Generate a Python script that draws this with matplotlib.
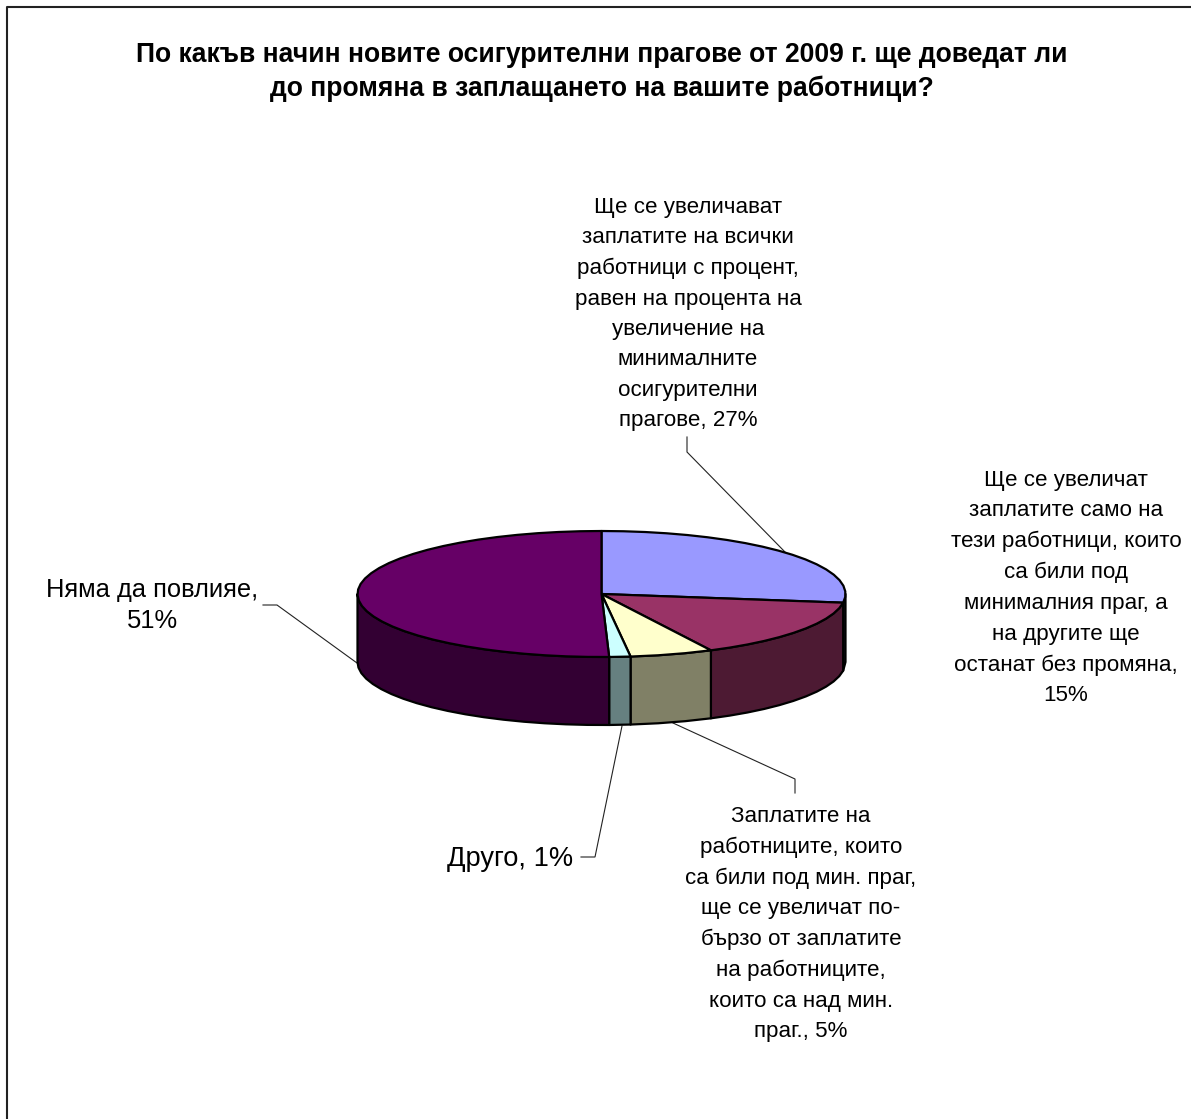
import numpy as np
import matplotlib
matplotlib.use("Agg")
import matplotlib.pyplot as plt
from matplotlib.patches import Polygon

plt.rcParams['font.family'] = ['Liberation Sans', 'DejaVu Sans']

title = "По какъв начин новите осигурителни прагове от 2009 г. ще доведат ли\nдо промяна в заплащането на вашите работници?"

shares = [27.2, 15.4, 5.5, 1.4, 50.5]
top_colors = ['#9999FF', '#993366', '#FFFFCC', '#CCFFFF', '#660066']
side_colors = ['#4D4D80', '#4D1A33', '#808066', '#668080', '#330033']

labels = [
    "Ще се увеличават\nзаплатите на всички\nработници с процент,\nравен на процента на\nувеличение на\nминималните\nосигурителни\nпрагове, 27%",
    "Ще се увеличат\nзаплатите само на\nтези работници, които\nса били под\nминималния праг, а\nна другите ще\nостанат без промяна,\n15%",
    "Заплатите на\nработниците, които\nса били под мин. праг,\nще се увеличат по-\nбързо от заплатите\nна работниците,\nкоито са над мин.\nпраг., 5%",
    "Друго, 1%",
    "Няма да повлияе,\n51%",
]
label_pos = [(688, 314), (1066, 588), (801, 924), (510, 859), (152, 605.5)]
label_size = [16.1, 16.1, 16.1, 19.6, 18.4]
label_spacing = [1.59, 1.6, 1.59, 1.2, 1.4]
leaders = [
    [(687, 437), (687, 452), (785, 552)],
    [],
    [(795, 793), (795, 779), (673, 723)],
    [(581, 857), (595, 857), (622, 726)],
    [(263, 605), (277, 605), (357, 663)],
]

W, H = 1191, 1119
CX, CY, RX, RY, DEPTH = 601.5, 594, 244, 63, 68
fig = plt.figure(figsize=(W / 100, H / 100), dpi=100, facecolor='white')
ax = fig.add_axes([0, 0, 1, 1])
ax.set_xlim(0, W)
ax.set_ylim(H, 0)
ax.axis('off')

# Frame: open towards the right and bottom image edges
ax.plot([6.8, 6.8, W], [H, 6.8, 6.8], color='#222222', lw=1.5, solid_capstyle='butt')

ax.text(601.5, 72, title, ha='center', va='center', fontsize=19.1,
        fontweight='bold', linespacing=1.32, color='black')


def rim(a0, a1):
    n = max(2, int(abs(a1 - a0) / 5) + 1)
    t = np.radians(np.linspace(a0, a1, n))
    return CX + RX * np.sin(t), CY - RY * np.cos(t)


edges = np.concatenate([[0], np.cumsum(shares)]) * 3.6
EDGE = dict(edgecolor='black', linewidth=1.6, joinstyle='round')

# Outer wall of each slice: only the front half (90..270 degrees) is visible
for a0, a1, c in zip(edges[:-1], edges[1:], side_colors):
    lo, hi = max(a0, 90), min(a1, 270)
    if hi <= lo:
        continue
    x, y = rim(lo, hi)
    pts = np.column_stack([np.r_[x, x[::-1]], np.r_[y, y[::-1] + DEPTH]])
    ax.add_patch(Polygon(pts, closed=True, facecolor=c, zorder=2, **EDGE))

# Top faces
for a0, a1, c in zip(edges[:-1], edges[1:], top_colors):
    x, y = rim(a0, a1)
    pts = np.column_stack([np.r_[CX, x], np.r_[CY, y]])
    ax.add_patch(Polygon(pts, closed=True, facecolor=c, zorder=3, **EDGE))

for pts in leaders:
    if pts:
        xs, ys = zip(*pts)
        ax.plot(xs, ys, color='#222222', lw=0.8, zorder=1, solid_joinstyle='miter')

for text, (x, y), s, ls in zip(labels, label_pos, label_size, label_spacing):
    ax.text(x, y, text, ha='center', va='center', fontsize=s,
            linespacing=ls, color='black')

fig.savefig('out.png', dpi=100, facecolor='white')
